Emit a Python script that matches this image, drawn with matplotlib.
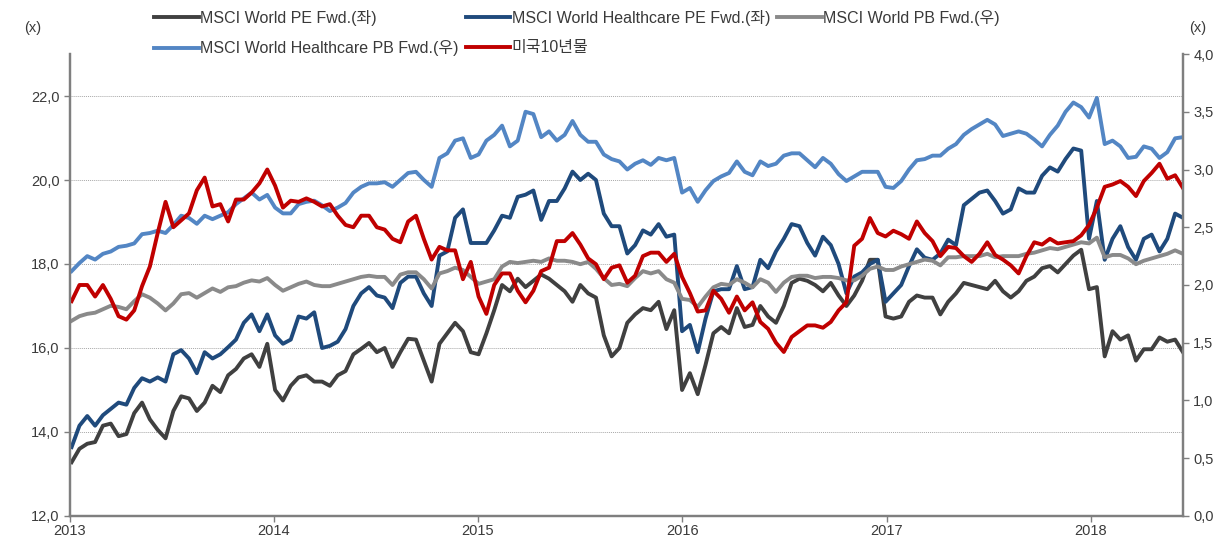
import matplotlib.pyplot as plt
import matplotlib.dates as mdates
import pandas as pd
from matplotlib.ticker import FuncFormatter, MultipleLocator

plt.rcParams["font.family"] = ["Liberation Sans", "Noto Sans CJK KR"]

# biweekly observations, Jan 2013 - Jun 2018
dates = pd.date_range("2013-01-04", periods=143, freq="14D")

# left axis (x)
pe_world = [
    13.28, 13.6, 13.72, 13.76, 14.15, 14.2, 13.9, 13.95, 14.45, 14.7, 14.3, 14.05, 13.85,
    14.5, 14.85, 14.8, 14.5, 14.7, 15.1, 14.95, 15.35, 15.5, 15.75, 15.85, 15.55,
    16.1, 15.0, 14.75, 15.1, 15.3, 15.35, 15.2, 15.2, 15.1, 15.35, 15.45, 15.85,
    15.98, 16.12, 15.9, 16.0, 15.55, 15.9, 16.22, 16.2, 15.7, 15.2, 16.1, 16.35,
    16.6, 16.4, 15.9, 15.85, 16.35, 16.9, 17.5, 17.35, 17.65, 17.45, 17.6, 17.75,
    17.65, 17.5, 17.35, 17.1, 17.5, 17.3, 17.2, 16.3, 15.8, 16.0, 16.6, 16.8,
    16.95, 16.9, 17.1, 16.45, 16.9, 15.0, 15.4, 14.9, 15.6, 16.35, 16.5, 16.35,
    16.95, 16.5, 16.55, 17.0, 16.75, 16.6, 17.0, 17.55, 17.65, 17.6, 17.5, 17.35, 17.55,
    17.25, 17.0, 17.25, 17.6, 18.1, 18.1, 16.75, 16.7, 16.75, 17.1, 17.25, 17.2,
    17.2, 16.8, 17.1, 17.3, 17.55, 17.5, 17.45, 17.4, 17.6, 17.35, 17.2, 17.35,
    17.6, 17.7, 17.9, 17.95, 17.8, 18.0, 18.2, 18.34, 17.4, 17.45, 15.8, 16.4,
    16.2, 16.3, 15.7, 15.97, 15.97, 16.25, 16.15, 16.2, 15.9,
]
pe_hc = [
    13.64, 14.15, 14.38, 14.15, 14.4, 14.55, 14.7, 14.65, 15.05, 15.28, 15.2, 15.3, 15.2,
    15.85, 15.95, 15.75, 15.4, 15.9, 15.75, 15.85, 16.02, 16.2, 16.6, 16.8, 16.4,
    16.8, 16.3, 16.1, 16.2, 16.75, 16.7, 16.85, 16.0, 16.05, 16.15, 16.45, 17.0,
    17.3, 17.45, 17.25, 17.2, 16.95, 17.55, 17.7, 17.7, 17.3, 17.0, 18.2, 18.3,
    19.1, 19.3, 18.5, 18.5, 18.5, 18.8, 19.15, 19.1, 19.6, 19.65, 19.75, 19.05,
    19.5, 19.5, 19.8, 20.2, 20.0, 20.15, 20.0, 19.2, 18.9, 18.9, 18.25, 18.45,
    18.8, 18.7, 18.95, 18.65, 18.7, 16.4, 16.55, 15.9, 16.7, 17.35, 17.4, 17.4,
    17.95, 17.4, 17.45, 18.1, 17.9, 18.3, 18.6, 18.95, 18.9, 18.5, 18.2, 18.65, 18.45,
    18.0, 17.3, 17.7, 17.8, 18.0, 18.1, 17.1, 17.3, 17.5, 17.95, 18.35, 18.15,
    18.1, 18.25, 18.58, 18.45, 19.4, 19.55, 19.7, 19.75, 19.5, 19.2, 19.3, 19.8,
    19.7, 19.7, 20.1, 20.3, 20.2, 20.5, 20.75, 20.7, 18.6, 19.5, 18.1, 18.6,
    18.9, 18.4, 18.1, 18.6, 18.7, 18.3, 18.6, 19.2, 19.1,
]

# right axis (x, %)
pb_world = [
    1.69, 1.73, 1.75, 1.76, 1.79, 1.82, 1.81, 1.79, 1.86, 1.92, 1.89, 1.84, 1.78,
    1.84, 1.92, 1.93, 1.89, 1.93, 1.97, 1.94, 1.98, 1.99, 2.02, 2.04, 2.03,
    2.06, 2.0, 1.95, 1.98, 2.01, 2.03, 2.0, 1.99, 1.99, 2.01, 2.03, 2.05,
    2.07, 2.08, 2.07, 2.07, 2.0, 2.09, 2.11, 2.11, 2.05, 1.97, 2.1, 2.12,
    2.15, 2.13, 2.07, 2.01, 2.03, 2.05, 2.16, 2.2, 2.19, 2.2, 2.21, 2.2,
    2.23, 2.21, 2.21, 2.2, 2.18, 2.2, 2.14, 2.06, 2.0, 2.01, 1.99, 2.06,
    2.12, 2.1, 2.12, 2.05, 2.02, 1.88, 1.87, 1.81, 1.9, 1.98, 2.01, 2.0,
    2.05, 2.02, 1.98, 2.05, 2.02, 1.94, 2.02, 2.07, 2.08, 2.08, 2.06, 2.07, 2.07,
    2.06, 2.04, 2.04, 2.08, 2.14, 2.16, 2.13, 2.13, 2.16, 2.18, 2.2, 2.22,
    2.21, 2.17, 2.24, 2.24, 2.25, 2.25, 2.25, 2.27, 2.24, 2.25, 2.25, 2.25,
    2.27, 2.28, 2.3, 2.32, 2.31, 2.33, 2.35, 2.37, 2.36, 2.41, 2.24, 2.26,
    2.26, 2.23, 2.18, 2.21, 2.23, 2.25, 2.27, 2.3, 2.27,
]
pb_hc = [
    2.12, 2.19, 2.25, 2.22, 2.27, 2.29, 2.33, 2.34, 2.36, 2.44, 2.45, 2.47, 2.45,
    2.52, 2.6, 2.58, 2.53, 2.6, 2.57, 2.6, 2.63, 2.7, 2.75, 2.8, 2.74,
    2.78, 2.67, 2.62, 2.62, 2.7, 2.72, 2.73, 2.69, 2.64, 2.67, 2.71, 2.8,
    2.85, 2.88, 2.88, 2.89, 2.85, 2.91, 2.97, 2.98, 2.91, 2.85, 3.1, 3.14,
    3.25, 3.27, 3.1, 3.13, 3.25, 3.3, 3.38, 3.2, 3.25, 3.5, 3.48, 3.28,
    3.33, 3.25, 3.3, 3.42, 3.3, 3.24, 3.24, 3.13, 3.09, 3.07, 3.0, 3.05,
    3.08, 3.04, 3.1, 3.08, 3.1, 2.8, 2.84, 2.72, 2.82, 2.9, 2.94, 2.97,
    3.07, 2.98, 2.95, 3.07, 3.03, 3.05, 3.12, 3.14, 3.14, 3.08, 3.02, 3.1, 3.05,
    2.96, 2.9, 2.94, 2.98, 2.98, 2.98, 2.85, 2.84, 2.9, 3.0, 3.08, 3.09,
    3.12, 3.12, 3.18, 3.22, 3.3, 3.35, 3.39, 3.43, 3.39, 3.29, 3.31, 3.33,
    3.31, 3.26, 3.2, 3.3, 3.38, 3.5, 3.58, 3.54, 3.45, 3.62, 3.22, 3.25,
    3.2, 3.1, 3.11, 3.2, 3.18, 3.1, 3.15, 3.27, 3.28,
]
us10y = [
    1.86, 2.0, 2.0, 1.9, 2.0, 1.88, 1.73, 1.7, 1.78, 1.99, 2.16, 2.45, 2.72,
    2.5, 2.56, 2.62, 2.82, 2.93, 2.68, 2.7, 2.55, 2.74, 2.74, 2.8, 2.88,
    3.0, 2.86, 2.67, 2.73, 2.72, 2.75, 2.72, 2.68, 2.7, 2.6, 2.52, 2.5,
    2.6, 2.6, 2.5, 2.48, 2.4, 2.37, 2.55, 2.6, 2.4, 2.22, 2.33, 2.3,
    2.3, 2.05, 2.2, 1.9, 1.75, 2.0, 2.1, 2.1, 1.95, 1.85, 1.95, 2.12,
    2.15, 2.38, 2.38, 2.45, 2.35, 2.23, 2.18, 2.05, 2.15, 2.17, 2.02, 2.08,
    2.25, 2.28, 2.28, 2.2, 2.27, 2.07, 1.93, 1.77, 1.78, 1.95, 1.88, 1.76,
    1.9, 1.78, 1.85, 1.68, 1.62, 1.5, 1.42, 1.55, 1.6, 1.65, 1.65, 1.63, 1.68,
    1.78, 1.85, 2.34, 2.4, 2.58, 2.45, 2.42, 2.47, 2.44, 2.4, 2.55, 2.45,
    2.38, 2.25, 2.33, 2.32, 2.25, 2.2, 2.27, 2.37, 2.26, 2.22, 2.17, 2.1,
    2.25, 2.37, 2.35, 2.4, 2.36, 2.37, 2.38, 2.43, 2.52, 2.67, 2.85, 2.87,
    2.9, 2.85, 2.77, 2.9, 2.97, 3.05, 2.92, 2.95, 2.84,
]

labels = {
    "pe_world": "MSCI World PE Fwd.(좌)",
    "pe_hc": "MSCI World Healthcare PE Fwd.(좌)",
    "pb_world": "MSCI World PB Fwd.(우)",
    "pb_hc": "MSCI World Healthcare PB Fwd.(우)",
    "us10y": "미국10년물",
}
colors = {
    "pe_world": "#404040",
    "pe_hc": "#1f4a7c",
    "pb_world": "#8a8a8a",
    "pb_hc": "#5386c4",
    "us10y": "#c00000",
}
axis_col = "#7f7f7f"
text_col = "#3a3a3a"
lw = 2.8

fig = plt.figure(figsize=(12.27, 5.39), dpi=100)
ax = fig.add_axes([0.057, 0.0427, 0.9071, 0.8571])
ax2 = ax.twinx()

h = {}
h["pe_world"], = ax.plot(dates, pe_world, color=colors["pe_world"], lw=lw)
h["pe_hc"], = ax.plot(dates, pe_hc, color=colors["pe_hc"], lw=lw)
h["pb_world"], = ax2.plot(dates, pb_world, color=colors["pb_world"], lw=lw)
h["pb_hc"], = ax2.plot(dates, pb_hc, color=colors["pb_hc"], lw=lw)
h["us10y"], = ax2.plot(dates, us10y, color=colors["us10y"], lw=lw)

comma = FuncFormatter(lambda v, _: f"{v:.1f}".replace(".", ","))

ax.set_ylim(12, 23)
ax.yaxis.set_major_locator(MultipleLocator(2))
ax.yaxis.set_major_formatter(comma)
ax2.set_ylim(0, 4)
ax2.yaxis.set_major_locator(MultipleLocator(0.5))
ax2.yaxis.set_major_formatter(comma)

ax.set_xlim(pd.Timestamp("2013-01-01"), dates[-1])
ax.xaxis.set_major_locator(mdates.YearLocator())
ax.xaxis.set_major_formatter(mdates.DateFormatter("%Y"))

for a in (ax, ax2):
    for side in ("left", "right", "bottom"):
        a.spines[side].set_color(axis_col)
        a.spines[side].set_linewidth(1.6)
    a.spines["top"].set_visible(False)
    a.tick_params(colors=axis_col, labelcolor=text_col, labelsize=10.5,
                  length=4, width=1)
ax.tick_params(axis="x", pad=2)

ax.grid(axis="y", color="#a8a8a8", ls=(0, (1, 1)), lw=0.7)
ax.set_axisbelow(True)

fig.text(33 / 1227, 1 - 28 / 539, "(x)", fontsize=10.5, color=text_col,
         ha="center", va="center")
fig.text(1198 / 1227, 1 - 28 / 539, "(x)", fontsize=10.5, color=text_col,
         ha="center", va="center")

order = ["pe_world", "pb_hc", "pe_hc", "us10y", "pb_world"]
fig.legend([h[k] for k in order], [labels[k] for k in order],
           loc="upper left", bbox_to_anchor=(154 / 1227, 1 - 10 / 539),
           ncol=3, frameon=False, fontsize=11.5, handlelength=2.8,
           handletextpad=0.08, columnspacing=0.45, labelspacing=0.9,
           borderpad=0, borderaxespad=0, labelcolor=text_col)

fig.savefig("out.png", dpi=100)
